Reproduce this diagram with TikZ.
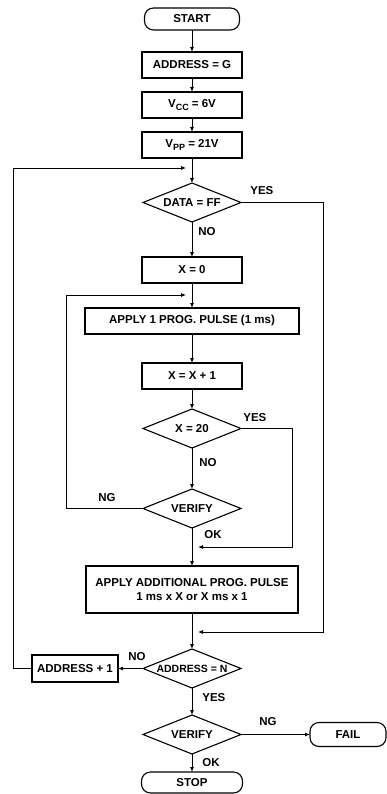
\documentclass[tikz,border=0pt]{standalone}
\usepackage{fontspec}
\setmainfont{Liberation Sans}
\usetikzlibrary{positioning, shapes.geometric, arrows.meta}
\newcommand{\lowsub}[1]{\raisebox{-2.5pt}{\fontsize{9}{9}\selectfont#1}}

\begin{document}
\begin{tikzpicture}
		[x=1pt, y=-1pt, line width=0.8pt,
		 >={Latex[length=5pt,width=4pt]},
		 font=\fontsize{11.5}{13.5}\selectfont\bfseries,
		 proc/.style={draw, line width=1.1pt, outer sep=0pt, minimum width=100pt, minimum height=26pt, inner sep=2pt},
		 decision/.style={draw, diamond, aspect=2.5, line width=1.1pt, outer sep=0pt, minimum width=98pt, minimum height=39pt, inner sep=0pt},
		 term/.style={draw, rounded corners=9pt, line width=1.1pt, outer sep=0pt, minimum height=22pt},
		 lbl/.style={inner sep=0pt}]
		\useasboundingbox (0,0) rectangle (387,794);

		% nodes %
		\node[term, minimum width=95pt] (start) at (192,19) {START};
		\node[proc, below=22pt of start] (addrG) {ADDRESS = G};
		\node[proc, below=14pt of addrG] (vcc) {V\lowsub{CC} = 6V};
		\node[proc, below=14pt of vcc] (vpp) {V\lowsub{PP} = 21V};
		\node[decision, below=25pt of vpp] (data) {DATA = FF};
		\node[proc, below=35pt of data] (xzero) {X = 0};
		\node[proc, minimum width=214pt, below=25pt of xzero] (pulse) {APPLY 1 PROG. PULSE (1 ms)};
		\node[proc, below=29pt of pulse] (xinc) {X = X + 1};
		\node[decision, below=20pt of xinc] (xtwenty) {X = 20};
		\node[decision, below=41pt of xtwenty] (verA) {VERIFY};
		\node[proc, minimum width=212pt, minimum height=47pt, align=center, below=38pt of verA] (extra) {APPLY ADDITIONAL PROG. PULSE\\1 ms x X or X ms x 1};
		\node[decision, font=\fontsize{10.5}{12}\selectfont\bfseries, below=36pt of extra] (addrN) {ADDRESS = N};
		\node[decision, below=27pt of addrN] (verB) {VERIFY};
		\node[term, minimum width=101pt, minimum height=21pt, below=18pt of verB] (stop) {STOP};
		\node[proc, minimum width=86pt, minimum height=27pt, left=25pt of addrN] (addrInc) {ADDRESS + 1};
		\node[term, minimum width=76pt, minimum height=24pt, right=69pt of verB] (fail) {FAIL};

		% junctions %
		\coordinate[above=15pt of data.north] (j1);
		\coordinate[above=13pt of pulse.north] (j2);
		\coordinate[below=19pt of verA.south] (j3);
		\coordinate[below=19pt of extra.south] (j4);

		% labels %
		\node[lbl, above right=7pt and 9pt of data.east] (yesA) {YES};
		\node[lbl, below right=5pt and 6pt of data.south] (noA) {NO};
		\node[lbl, above right=6pt and 2pt of xtwenty.east] (yesB) {YES};
		\node[lbl, below right=10pt and 7pt of xtwenty.south] (noB) {NO};
		\node[lbl, above left=6pt and 27pt of verA.west] (ngA) {NG};
		\node[lbl, below right=2pt and 12pt of verA.south] (okA) {OK};
		\node[lbl, above=7pt of addrN.west, xshift=-6pt] (noC) {NO};
		\node[lbl, below right=5pt and 10pt of addrN.south] (yesC) {YES};
		\node[lbl, above right=8pt and 18pt of verB.east] (ngB) {NG};
		\node[lbl, below right=4pt and 10pt of verB.south] (okB) {OK};

		% edges %
		\draw[->] (start) -- (addrG);
		\draw[->] (addrG) -- (vcc);
		\draw[->] (vcc) -- (vpp);
		\draw[->] (vpp) -- (data);
		\draw[->] (data) -- (xzero);
		\draw[->] (xzero) -- (pulse);
		\draw[->] (pulse) -- (xinc);
		\draw[->] (xinc) -- (xtwenty);
		\draw[->] (xtwenty) -- (verA);
		\draw[->] (verA) -- (extra);
		\draw[->] (extra) -- (addrN);
		\draw[->] (addrN) -- (verB);
		\draw[->] (verB) -- (stop);
		\draw[->] (addrN) -- (addrInc);
		\draw[->] (verB) -- (fail);
		\draw[->, shorten >=6pt] (verA.west) -- ++(-77pt,0pt) |- (j2);
		\draw[->, shorten >=6pt] (addrInc.west) -- ++(-19pt,0pt) |- (j1);
		\draw[->, shorten >=6pt] (xtwenty.east) -- ++(51pt,0pt) |- (j3);
		\draw[->, shorten >=6pt] (data.east) -- ++(82pt,0pt) |- (j4);
		\end{tikzpicture}
\end{document}
